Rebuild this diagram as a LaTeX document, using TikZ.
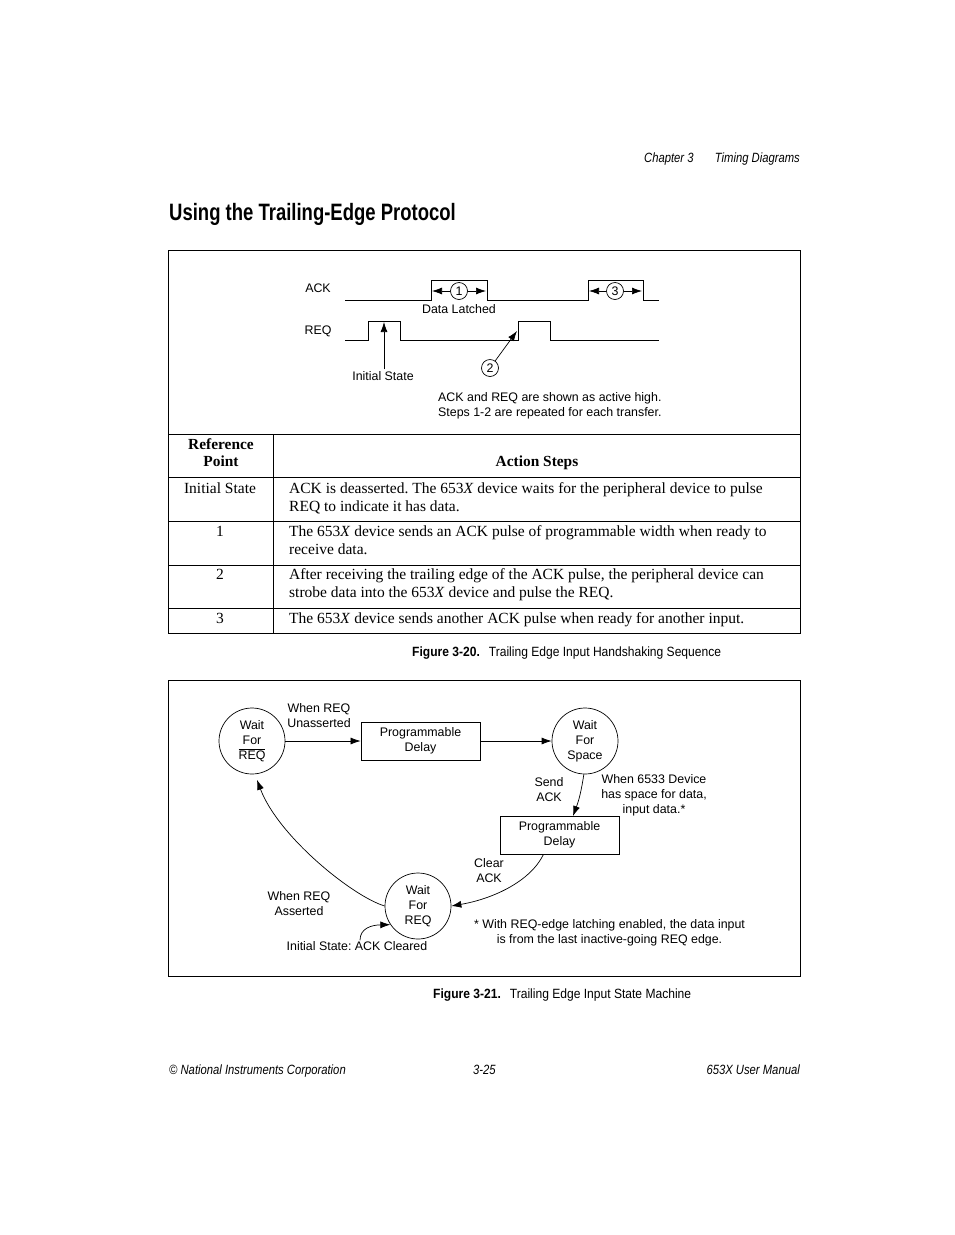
\documentclass[tikz,border=0pt]{standalone}
\usepackage{fontspec}
\setmainfont{Liberation Serif}
\newfontfamily\hv{Liberation Sans}
\newfontfamily\hvtitle[FakeStretch=0.78]{Liberation Sans}
\newfontfamily\hvcap[FakeStretch=0.9]{Liberation Sans}
\newfontfamily\hvhdr[FakeStretch=0.84]{Liberation Sans}
\usetikzlibrary{arrows.meta,calc}
\frenchspacing
\begin{document}
\frenchspacing
\begin{tikzpicture}[x=1pt,y=-1pt,
  lbl/.style={font=\hv\fontsize{12.4}{15}\selectfont, inner sep=0pt, align=center},
  state/.style={circle, draw, line width=0.7pt, minimum size=66pt, inner sep=0pt, align=center, font=\hv\fontsize{12.4}{15}\selectfont},
  dbox/.style={draw, line width=0.8pt, minimum width=119pt, minimum height=38pt, inner sep=0pt, align=center, font=\hv\fontsize{12.4}{15}\selectfont},
  num/.style={circle, draw, line width=0.7pt, minimum size=17pt, inner sep=0pt, font=\hv\fontsize{12.4}{15}\selectfont},
  arr/.style={-{Latex[length=10pt,width=7pt]}, line width=0.7pt},
  sig/.style={line width=0.9pt},
  figframe/.style={line width=0.9pt},
  tb/.style={font=\frenchspacing\fontsize{15.5}{18}\selectfont, inner sep=0pt, align=left},
  tbh/.style={font=\bfseries\fontsize{15.4}{17}\selectfont, inner sep=0pt, align=center},
  capt/.style={font=\hvcap\fontsize{13.4}{16}\selectfont, inner sep=0pt},
  hdr/.style={font=\hvhdr\itshape\fontsize{13.4}{16}\selectfont, inner sep=0pt}
]
\useasboundingbox (0,0) rectangle (954,1235);
\fill[white] (0,0) rectangle (954,1235);

% page header
\node[hdr, anchor=base west] (chap) at (644,162) {Chapter 3};
\node[hdr, anchor=base east] (chapname) at (800,162) {Timing Diagrams};
\node[font=\hvtitle\bfseries\fontsize{23.7}{28}\selectfont, inner sep=0pt, anchor=base west] (title) at (169,220) {Using the Trailing-Edge Protocol};

% ===== Figure 3-20 =====
\draw[figframe] (168,250) rectangle (800,633);
\draw[figframe] (168,434) -- (800,434);
\draw[figframe] (168,477) -- (800,477);
\draw[figframe] (168,521) -- (800,521);
\draw[figframe] (168,565) -- (800,565);
\draw[figframe] (168,608) -- (800,608);
\draw[figframe] (273,434) -- (273,633);

% timing diagram
\node[lbl] (ackl) at (318,288) {ACK};
\node[lbl] (reql) at (318,331) {REQ};
\draw[sig] (345,300) -- (431,300) -- (431,280) -- (487,280) -- (487,300) -- (588,300) -- (588,280) -- (643,280) -- (643,300) -- (659,300);
\draw[sig] (345,340) -- (368,340) -- (368,321) -- (400,321) -- (400,340) -- (518,340) -- (518,321) -- (550,321) -- (550,340) -- (659,340);
\node[num] (n1) at (459,291) {1};
\node[num] (n3) at (615,291) {3};
\coordinate (a1l) at (432,291);
\coordinate (a1r) at (486,291);
\coordinate (a3l) at (589,291);
\coordinate (a3r) at (642,291);
\draw[arr] (n1) -- (a1l);
\draw[arr] (n1) -- (a1r);
\draw[arr] (n3) -- (a3l);
\draw[arr] (n3) -- (a3r);
\node[lbl] (dl) at (459,309) {Data Latched};
\node[lbl] (initl) at (383,376) {Initial State};
\coordinate (initp) at (384,322);
\draw[arr] ($(initl.north)+(1,-2)$) -- (initp);
\node[num] (n2) at (490,368) {2};
\coordinate (req2) at (517,331);
\draw[arr] (n2) -- (req2);
\node[lbl, anchor=base west, align=left] (note) at (438,416) {ACK and REQ are shown as active high.\\Steps 1-2 are repeated for each transfer.};

% table
\node[tbh, anchor=base] (h1) at (221,466) {Reference\\Point};
\node[tbh, anchor=base] (h2) at (537,466) {Action Steps};
\node[tb, anchor=base] (r1a) at (220,493) {Initial State};
\node[tb, anchor=base west] (r1b) at (289,511) {ACK is deasserted. The 653\textit{X} device waits for the peripheral device to pulse\\REQ to indicate it has data.};
\node[tb, anchor=base] (r2a) at (220,536) {1};
\node[tb, anchor=base west] (r2b) at (289,554) {The 653\textit{X} device sends an ACK pulse of programmable width when ready to\\receive data.};
\node[tb, anchor=base] (r3a) at (220,579) {2};
\node[tb, anchor=base west] (r3b) at (289,597) {After receiving the trailing edge of the ACK pulse, the peripheral device can\\strobe data into the 653\textit{X} device and pulse the REQ.};
\node[tb, anchor=base] (r4a) at (220,623) {3};
\node[tb, anchor=base west] (r4b) at (289,623) {The 653\textit{X} device sends another ACK pulse when ready for another input.};

\node[capt, anchor=base west] (cap1) at (412,656) {{\bfseries Figure 3-20.}\hspace{9pt}Trailing Edge Input Handshaking Sequence};

% ===== Figure 3-21 =====
\draw[figframe] (168,680) rectangle (800,976);
\node[state] (c1) at (252,741) {Wait\\For\\$\overline{\mbox{REQ}}$};
\node[dbox] (b1) at (420.5,741) {Programmable\\Delay};
\node[state] (c2) at (585,741) {Wait\\For\\Space};
\node[dbox] (b2) at (559.5,835) {Programmable\\Delay};
\node[state] (c3) at (418,906) {Wait\\For\\REQ};

\draw[arr] (c1) -- (b1);
\draw[arr] (b1) -- (c2);
\coordinate (b2in) at (573,816);
\draw[arr] (c2.268) to[bend left=6] (b2in);
\draw[arr] ($(b2.south)+(-16,0)$) .. controls (530,882) and (492,899) .. (c3.east);
\draw[arr, shorten >=6pt] (c3.west) .. controls (352,896) and (278,836) .. (c1.-85);

\node[lbl] (t1) at (319,716) {When REQ\\Unasserted};
\node[lbl] (t2) at (549,790) {Send\\ACK};
\node[lbl] (t3) at (654,795) {When 6533 Device\\has space for data,\\input data.*};
\node[lbl] (t4) at (489,871) {Clear\\ACK};
\node[lbl] (t5) at (299,904) {When REQ\\Asserted};
\node[lbl] (t6) at (609.5,933) {* With REQ-edge latching enabled, the data input\\is from the last inactive-going REQ edge.};
\node[lbl] (is) at (357,946) {Initial State: ACK Cleared};
\draw[arr] ($(is.north)+(3,-1)$) .. controls (360,928) and (372,925) .. (c3.214);

\node[capt, anchor=base west] (cap2) at (433,998) {{\bfseries Figure 3-21.}\hspace{9pt}Trailing Edge Input State Machine};

% footer
\node[hdr, anchor=base west] (f1) at (169,1074) {© National Instruments Corporation};
\node[hdr, anchor=base west] (f2) at (473,1074) {3-25};
\node[hdr, anchor=base east] (f3) at (800,1074) {653X User Manual};
\end{tikzpicture}
\end{document}
